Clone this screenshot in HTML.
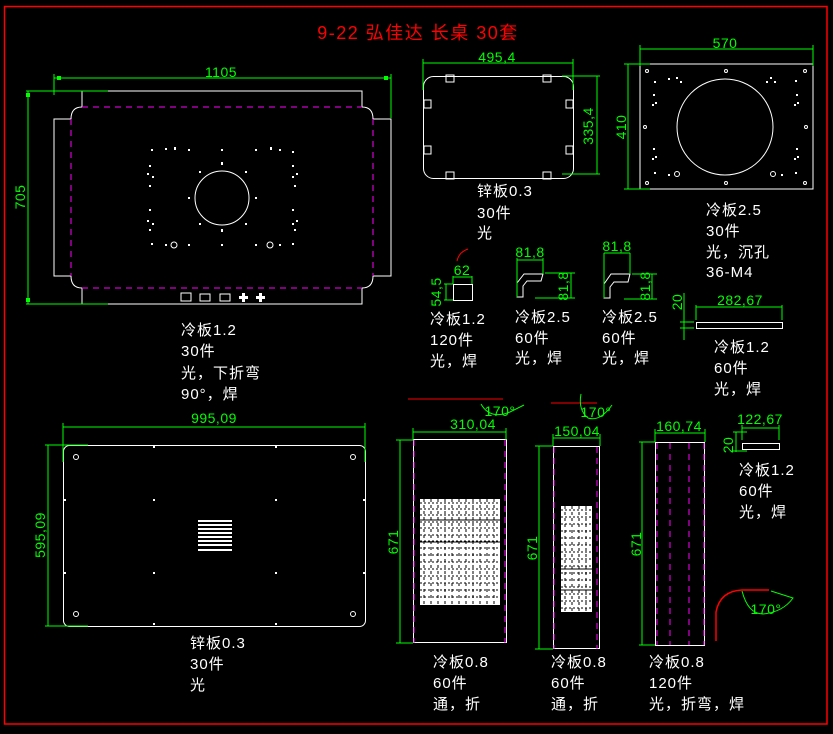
<!DOCTYPE html>
<html><head><meta charset="utf-8"><style>
html,body{margin:0;padding:0;background:#000;}
svg{display:block}
text{font-family:"Liberation Sans","Noto Sans CJK SC",sans-serif;}
.w{fill:#fff;font-size:15px;letter-spacing:1px}
.g{fill:#00ff00;font-size:14px;letter-spacing:0.5px}
</style></head><body>
<svg width="833" height="734" viewBox="0 0 833 734" xmlns="http://www.w3.org/2000/svg">
<rect x="0" y="0" width="833" height="734" fill="#000"/>
<rect x="4.5" y="6.5" width="822.5" height="717.5" fill="none" stroke="#f00" stroke-width="1.5"/>
<text x="418" y="39" fill="#f00" font-size="18" letter-spacing="1.5" text-anchor="middle">9-22 弘佳达  长桌 30套</text>

<!-- Part 1 -->
<g fill="none" stroke="#fff" stroke-width="1">
<path d="M82,91 H362 V107 Q373,107 373,119 H391 V276 H373 Q373,288 362,288 V304 H82 V288 Q71,288 71,276 H54 V119 H71 Q71,107 82,107 Z"/>
<circle cx="222" cy="198" r="27"/>
<rect x="181" y="293" width="10" height="8"/><rect x="200" y="294" width="10" height="7"/><rect x="220" y="294" width="10" height="7"/>
</g>
<g fill="none" stroke="#f0f" stroke-dasharray="6,5">
<path d="M82,107 H362 M82,288 H362 M71,119 V276 M373,119 V276"/>
</g>
<g fill="#fff">
<rect x="151" y="149" width="2" height="2"/><rect x="165" y="148" width="2" height="2"/><rect x="174" y="147" width="2" height="3"/><rect x="188" y="149" width="2" height="2"/><rect x="221" y="149" width="2" height="2"/><rect x="255" y="149" width="2" height="2"/><rect x="270" y="147" width="2" height="3"/><rect x="279" y="149" width="2" height="2"/><rect x="292" y="151" width="2" height="2"/>
<rect x="149" y="165" width="2" height="2"/><rect x="147" y="173" width="2" height="2"/><rect x="152" y="176" width="2" height="2"/><rect x="149" y="185" width="2" height="2"/><rect x="292" y="165" width="2" height="2"/><rect x="296" y="173" width="2" height="2"/><rect x="292" y="176" width="2" height="2"/><rect x="294" y="185" width="2" height="2"/>
<rect x="149" y="209" width="2" height="2"/><rect x="147" y="220" width="2" height="2"/><rect x="152" y="223" width="2" height="2"/><rect x="149" y="229" width="2" height="2"/><rect x="292" y="209" width="2" height="2"/><rect x="296" y="220" width="2" height="2"/><rect x="292" y="223" width="2" height="2"/><rect x="294" y="229" width="2" height="2"/>
<rect x="151" y="243" width="2" height="2"/><rect x="165" y="244" width="2" height="2"/><rect x="188" y="244" width="2" height="2"/><rect x="221" y="244" width="2" height="2"/><rect x="255" y="244" width="2" height="2"/><rect x="279" y="244" width="2" height="2"/><rect x="292" y="243" width="2" height="2"/>
<rect x="199" y="171" width="2" height="2"/><rect x="245" y="171" width="2" height="2"/><rect x="188" y="197" width="2" height="2"/><rect x="255" y="197" width="2" height="2"/><rect x="199" y="223" width="2" height="2"/><rect x="245" y="223" width="2" height="2"/><rect x="221" y="162" width="2" height="3"/><rect x="221" y="229" width="2" height="3"/>
<circle cx="174" cy="245" r="3" fill="none" stroke="#fff"/><circle cx="270" cy="245" r="3" fill="none" stroke="#fff"/>
<path d="M242,293h3v3h3v3h-3v3h-3v-3h-3v-3h3z"/><path d="M259,293h3v3h3v3h-3v3h-3v-3h-3v-3h3z"/>
</g>
<g stroke="#0f0" fill="none"><path d="M54,74 V95 M391,74 V118 M54,78 H391 M26,91 H108 M26,304 H108 M28,91 V304"/></g>
<g fill="#0f0"><rect x="57" y="76" width="4" height="4"/><rect x="384" y="76" width="4" height="4"/><rect x="26" y="93" width="4" height="4"/><rect x="26" y="298" width="4" height="4"/></g>
<text class="g" x="221" y="77" text-anchor="middle">1105</text>
<text class="g" x="0" y="0" transform="translate(25,197) rotate(-90)" text-anchor="middle">705</text>
<text class="w" x="181" y="335">冷板1.2</text><text class="w" x="181" y="356">30件</text><text class="w" x="181" y="378">光，下折弯</text><text class="w" x="181" y="399">90°，焊</text>

<!-- Part 2 -->
<g fill="none" stroke="#fff">
<rect x="423.5" y="76.5" width="150" height="102" rx="10"/>
<rect x="446" y="75" width="8" height="7"/><rect x="543" y="75" width="8" height="7"/><rect x="446" y="172" width="8" height="7"/><rect x="543" y="172" width="8" height="7"/>
<rect x="424" y="100" width="7" height="8"/><rect x="566" y="100" width="7" height="8"/><rect x="424" y="146" width="7" height="8"/><rect x="566" y="146" width="7" height="8"/>
</g>
<g stroke="#0f0" fill="none"><path d="M423,59 V90 M573,59 V90 M423,63 H573 M562,76 H600 M562,174 H600 M597,76 V174"/></g>
<text class="g" x="497" y="62" text-anchor="middle">495,4</text>
<text class="g" x="0" y="0" transform="translate(593,126) rotate(-90)" text-anchor="middle">335,4</text>
<text class="w" x="477" y="196">锌板0.3</text><text class="w" x="477" y="218">30件</text><text class="w" x="477" y="238">光</text>

<!-- Part 3 -->
<g fill="none" stroke="#fff">
<rect x="640" y="64" width="173" height="125"/>
<circle cx="725" cy="127" r="48"/>
<circle cx="647" cy="71" r="1.5"/><circle cx="726" cy="71" r="1.5"/><circle cx="805" cy="71" r="1.5"/>
<circle cx="645" cy="127" r="1.5"/><circle cx="806" cy="127" r="1.5"/>
<circle cx="647" cy="183" r="1.5"/><circle cx="726" cy="183" r="1.5"/><circle cx="805" cy="183" r="1.5"/>
<circle cx="677" cy="174" r="2.5"/><circle cx="773" cy="174" r="2.5"/>
</g>
<g fill="#fff"><rect x="668" y="78" width="2" height="2"/><rect x="676" y="77" width="2" height="2"/><rect x="680" y="81" width="2" height="2"/><rect x="770" y="77" width="2" height="2"/><rect x="774" y="81" width="2" height="2"/><rect x="766" y="81" width="2" height="2"/><rect x="654" y="81" width="2" height="2"/><rect x="795" y="80" width="2" height="2"/>
<rect x="653" y="94" width="2" height="2"/><rect x="655" y="102" width="2" height="2"/><rect x="652" y="104" width="2" height="2"/><rect x="796" y="94" width="2" height="2"/><rect x="797" y="102" width="2" height="2"/><rect x="794" y="104" width="2" height="2"/>
<rect x="653" y="148" width="2" height="2"/><rect x="655" y="156" width="2" height="2"/><rect x="652" y="158" width="2" height="2"/><rect x="796" y="148" width="2" height="2"/><rect x="797" y="156" width="2" height="2"/><rect x="794" y="158" width="2" height="2"/>
<rect x="654" y="172" width="2" height="2"/><rect x="795" y="172" width="2" height="2"/><rect x="668" y="174" width="2" height="2"/><rect x="781" y="174" width="2" height="2"/></g>
<g stroke="#0f0" fill="none"><path d="M640,45 V66 M813,45 V66 M640,49 H813 M624,64 H650 M624,189 H650 M628,64 V189"/></g>
<text class="g" x="725" y="48" text-anchor="middle">570</text>
<text class="g" x="0" y="0" transform="translate(626,127) rotate(-90)" text-anchor="middle">410</text>
<text class="w" x="706" y="215">冷板2.5</text><text class="w" x="706" y="236">30件</text><text class="w" x="706" y="257">光，沉孔</text><text class="w" x="706" y="277">36-M4</text>

<!-- small parts -->
<path d="M457,261 Q459,252 468,249" stroke="#f00" fill="none"/>
<rect x="453.5" y="284.5" width="19" height="16" fill="none" stroke="#fff"/>
<g stroke="#0f0" fill="none"><path d="M453,276 V284 M472,276 V284 M453,277 H472 M444,284 H453 M444,300 H453 M446,284 V300"/></g>
<text class="g" x="462" y="275" text-anchor="middle">62</text>
<text class="g" x="0" y="0" transform="translate(441,292) rotate(-90)" text-anchor="middle">54,5</text>
<text class="w" x="430" y="324">冷板1.2</text><text class="w" x="430" y="345">120件</text><text class="w" x="430" y="366">光，焊</text>

<path d="M517,297 V283 L524,274 H543 L541,281 H527 L523,286 V297 Z" fill="none" stroke="#fff"/>
<g stroke="#0f0" fill="none"><path d="M517,258 V297 M543,258 V274 M517,260 H543 M545,273 H575 M535,298 H575 M571,273 V298"/></g>
<text class="g" x="530" y="257" text-anchor="middle">81,8</text>
<text class="g" x="0" y="0" transform="translate(568,286) rotate(-90)" text-anchor="middle">81,8</text>
<text class="w" x="515" y="322">冷板2.5</text><text class="w" x="515" y="343">60件</text><text class="w" x="515" y="363">光，焊</text>

<path d="M604,298 V284 L611,274 H630 L628,282 H614 L610,287 V298 Z" fill="none" stroke="#fff"/>
<g stroke="#0f0" fill="none"><path d="M604,253 V298 M630,253 V274 M604,253 H630 M632,274 H657 M624,299 H657 M652,274 V299"/></g>
<text class="g" x="617" y="251" text-anchor="middle">81,8</text>
<text class="g" x="0" y="0" transform="translate(650,286) rotate(-90)" text-anchor="middle">81,8</text>
<text class="w" x="602" y="322">冷板2.5</text><text class="w" x="602" y="343">60件</text><text class="w" x="602" y="363">光，焊</text>

<rect x="696.5" y="322.5" width="86" height="6" fill="none" stroke="#fff"/>
<g stroke="#0f0" fill="none"><path d="M696,305 V320 M782,305 V320 M696,307 H782 M684,293 V340 M680,322 H694 M680,328 H694"/></g>
<text class="g" x="740" y="305" text-anchor="middle">282,67</text>
<text class="g" x="0" y="0" transform="translate(682,302) rotate(-90)" text-anchor="middle">20</text>
<text class="w" x="714" y="352">冷板1.2</text><text class="w" x="714" y="373">60件</text><text class="w" x="714" y="394">光，焊</text>

<!-- Bottom left panel -->
<rect x="63.5" y="445.5" width="302" height="181" rx="6" fill="none" stroke="#fff"/>
<g fill="none" stroke="#fff"><circle cx="76" cy="457" r="2.5"/><circle cx="353" cy="457" r="2.5"/><circle cx="76" cy="614" r="2.5"/><circle cx="353" cy="614" r="2.5"/></g>
<g fill="#fff"><rect x="153" y="446" width="2" height="2"/><rect x="275" y="446" width="2" height="2"/><rect x="64" y="499" width="2" height="2"/><rect x="153" y="499" width="2" height="2"/><rect x="275" y="499" width="2" height="2"/><rect x="363" y="499" width="2" height="2"/><rect x="64" y="572" width="2" height="2"/><rect x="153" y="572" width="2" height="2"/><rect x="275" y="572" width="2" height="2"/><rect x="363" y="572" width="2" height="2"/><rect x="153" y="623" width="2" height="2"/><rect x="275" y="623" width="2" height="2"/>
<rect x="198" y="520" width="34" height="2"/><rect x="198" y="524" width="34" height="2"/><rect x="198" y="528" width="34" height="2"/><rect x="198" y="532" width="34" height="2"/><rect x="198" y="536" width="34" height="2"/><rect x="198" y="540" width="34" height="2"/><rect x="198" y="544" width="34" height="2"/><rect x="198" y="549" width="34" height="2"/></g>
<g stroke="#0f0" fill="none"><path d="M63,423 V462 M365,423 V462 M63,427 H365 M45,445 H88 M45,626 H88 M48,445 V626"/></g>
<text class="g" x="214" y="423" text-anchor="middle">995,09</text>
<text class="g" x="0" y="0" transform="translate(45,535) rotate(-90)" text-anchor="middle">595,09</text>
<text class="w" x="190" y="648">锌板0.3</text><text class="w" x="190" y="669">30件</text><text class="w" x="190" y="690">光</text>

<!-- Panel A -->
<path d="M408,399 H503" stroke="#f00"/>
<path d="M481,404 Q490,420 510,412 L524,405" stroke="#0f0" fill="none"/>
<text class="g" x="500" y="416" text-anchor="middle" font-size="12">170°</text>
<rect x="413.5" y="439.5" width="93" height="203" fill="none" stroke="#fff"/>
<path d="M414,440 V643 M505,440 V643" stroke="#f0f" stroke-dasharray="6,5"/>
<rect x="420" y="499" width="80" height="106" fill="#fff"/>
<g stroke="#000" stroke-width="1" stroke-dasharray="2,2"><path d="M420,503 H500 M420,509 H500 M420,515 H500 M420,522 H500 M420,528 H500 M420,535 H500 M420,541 H500 M420,548 H500 M420,555 H500 M420,562 H500 M420,569 H500 M420,576 H500 M420,583 H500 M420,590 H500 M420,597 H500"/></g>
<g stroke="#000" stroke-width="1" stroke-dasharray="3,3"><path d="M424,499 V605 M431,499 V605 M438,499 V605 M445,499 V605 M452,499 V605 M459,499 V605 M466,499 V605 M473,499 V605 M480,499 V605 M487,499 V605 M494,499 V605"/></g>
<path d="M420,520 H500 M420,542 H500" stroke="#000"/>
<g stroke="#0f0" fill="none"><path d="M413,428 V440 M506,428 V440 M413,432 H506"/></g>
<text class="g" x="473" y="429" text-anchor="middle">310,04</text>
<text class="w" x="433" y="667">冷板0.8</text><text class="w" x="433" y="688">60件</text><text class="w" x="433" y="709">通，折</text>

<!-- Panel B -->
<path d="M551,403 H597" stroke="#f00"/>
<path d="M581,394 Q578,410 588,418 Q600,422 612,405" stroke="#0f0" fill="none"/>
<text class="g" x="596" y="417" text-anchor="middle" font-size="12">170°</text>
<rect x="553.5" y="446.5" width="46" height="202" fill="none" stroke="#fff"/>
<path d="M554,447 V649 M597,447 V649" stroke="#f0f" stroke-dasharray="6,5"/>
<rect x="561" y="506" width="31" height="106" fill="#fff"/>
<g stroke="#000" stroke-dasharray="2,2"><path d="M561,510 H592 M561,517 H592 M561,524 H592 M561,531 H592 M561,538 H592 M561,545 H592 M561,552 H592 M561,559 H592 M561,566 H592 M561,573 H592 M561,580 H592 M561,587 H592 M561,594 H592 M561,601 H592 M561,608 H592"/></g>
<g stroke="#000" stroke-dasharray="3,3"><path d="M565,506 V612 M572,506 V612 M579,506 V612 M586,506 V612"/></g>
<path d="M561,569 H592 M561,590 H592" stroke="#000"/>
<g stroke="#0f0" fill="none"><path d="M553,434 V446 M600,434 V446 M553,438 H600 M535,446 H553 M535,649 H553 M539,446 V649"/></g>
<text class="g" x="577" y="436" text-anchor="middle">150,04</text>
<text class="g" x="0" y="0" transform="translate(537,548) rotate(-90)" text-anchor="middle">671</text>
<text class="w" x="551" y="667">冷板0.8</text><text class="w" x="551" y="688">60件</text><text class="w" x="551" y="709">通，折</text>
<g stroke="#0f0" fill="none"><path d="M396,440 H413 M396,643 H413 M400,440 V643"/></g>
<text class="g" x="0" y="0" transform="translate(398,542) rotate(-90)" text-anchor="middle">671</text>

<!-- Panel C -->
<rect x="655.5" y="442.5" width="49" height="203" fill="none" stroke="#fff"/>
<path d="M657,443 V645 M670,443 V645 M689,443 V645 M704,443 V645" stroke="#f0f" stroke-dasharray="6,5"/>
<g stroke="#0f0" fill="none"><path d="M655,429 V442 M705,429 V442 M655,433 H705 M639,442 H655 M639,645 H655 M642,442 V645"/></g>
<text class="g" x="679" y="431" text-anchor="middle">160,74</text>
<text class="g" x="0" y="0" transform="translate(641,544) rotate(-90)" text-anchor="middle">671</text>
<text class="w" x="649" y="667">冷板0.8</text><text class="w" x="649" y="688">120件</text><text class="w" x="649" y="709">光，折弯，焊</text>

<rect x="742.5" y="443.5" width="37" height="6" fill="none" stroke="#fff"/>
<g stroke="#0f0" fill="none"><path d="M742,425 V440 M779,425 V440 M742,428 H779 M733,432 H747 M733,451 H747 M736,432 V452"/></g>
<text class="g" x="760" y="424" text-anchor="middle">122,67</text>
<text class="g" x="0" y="0" transform="translate(733,445) rotate(-90)" text-anchor="middle">20</text>
<text class="w" x="739" y="475">冷板1.2</text><text class="w" x="739" y="496">60件</text><text class="w" x="739" y="517">光，焊</text>

<path d="M716,641 V612 Q720,591 742,590 H769" stroke="#f00" stroke-width="1.5" fill="none"/>
<path d="M742,591 Q748,614 763,614 Q783,612 793,598 L771,591" stroke="#0f0" fill="none"/>
<text class="g" x="766" y="614" text-anchor="middle" font-size="11">170°</text>
</svg>
</body></html>
